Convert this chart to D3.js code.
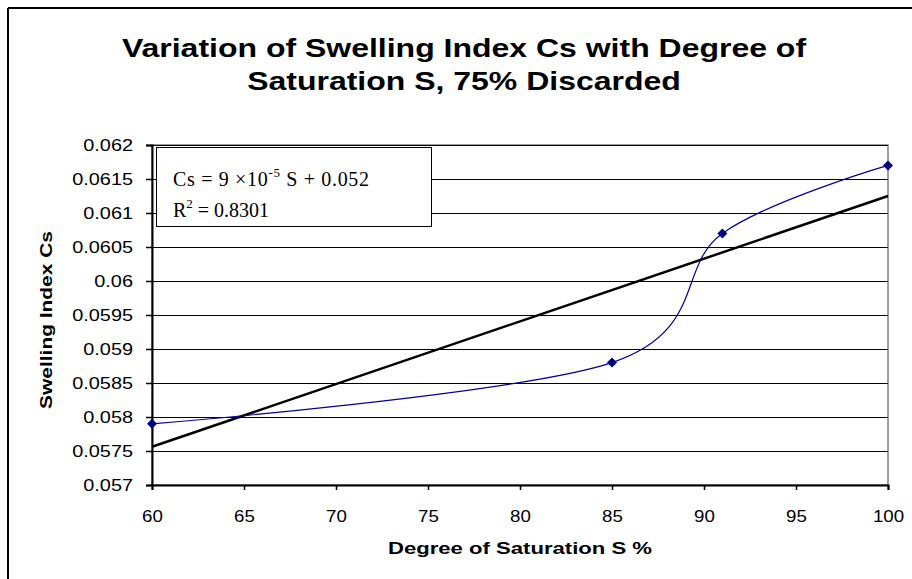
<!DOCTYPE html>
<html><head><meta charset="utf-8">
<script src="https://cdn.jsdelivr.net/npm/d3@7"></script>
<style>body{margin:0;background:#fff}svg{display:block}</style>
</head><body><svg id="c" width="912" height="579"></svg>
<script>
const saturation = [60, 85, 91, 100];
const swelling = [0.0579, 0.0588, 0.0607, 0.0617];
const xTicks = [60, 65, 70, 75, 80, 85, 90, 95, 100];
const yTicks = [0.057, 0.0575, 0.058, 0.0585, 0.059, 0.0595, 0.06, 0.0605, 0.061, 0.0615, 0.062];
const titleLines = ["Variation of Swelling Index Cs with Degree of", "Saturation S, 75% Discarded"];

const svg = d3.select("#c");
const L = 152, R = 888, T = 145, B = 485;
const x = d3.scaleLinear().domain([60, 100]).range([L, R]);
const y = d3.scaleLinear().domain([0.057, 0.062]).range([B, T]);
const font = "Liberation Sans, Arial, sans-serif";

function stretch(sel, k) {
  sel.each(function () {
    const w = this.getComputedTextLength();
    d3.select(this).attr("textLength", w * k).attr("lengthAdjust", "spacingAndGlyphs");
  });
}

// outer border (left & top visible)
svg.append("line").attr("x1", 8).attr("x2", 8).attr("y1", 8).attr("y2", 579).attr("stroke", "#000").attr("stroke-width", 2);
svg.append("line").attr("x1", 8).attr("x2", 912).attr("y1", 8).attr("y2", 8).attr("stroke", "#000").attr("stroke-width", 2);

// title
const tt = svg.append("g").selectAll("text").data(titleLines).join("text")
  .attr("x", 464).attr("y", (d, i) => 57 + i * 33).attr("text-anchor", "middle")
  .attr("font-family", font).attr("font-weight", "bold").attr("font-size", 26)
  .text(d => d);
stretch(tt, 1.23);

// plot border (gray)
svg.append("rect").attr("x", L).attr("y", T).attr("width", R - L).attr("height", B - T)
  .attr("fill", "none").attr("stroke", "#808080").attr("stroke-width", 1.5);

// gridlines
svg.append("g").selectAll("line").data(yTicks.slice(1)).join("line")
  .attr("x1", L).attr("x2", R).attr("y1", d => Math.round(y(d)) + 0.5).attr("y2", d => Math.round(y(d)) + 0.5)
  .attr("stroke", "#000").attr("stroke-width", 1.2);

// axes
const xAxis = svg.append("g").attr("transform", `translate(0,${B})`)
  .call(d3.axisBottom(x).tickValues(xTicks).tickSize(5).tickPadding(20).tickFormat(d3.format("d")));
const yAxis = svg.append("g").attr("transform", `translate(${L},0)`)
  .call(d3.axisLeft(y).tickValues(yTicks).tickSize(6).tickPadding(13).tickFormat(d => String(+d.toFixed(4))));
[xAxis, yAxis].forEach(g => {
  g.select(".domain").attr("stroke", "#000").attr("stroke-width", 2);
  g.selectAll(".tick line").attr("stroke", "#000").attr("stroke-width", 1.5);
  g.selectAll("text").attr("font-family", font).attr("font-size", 17).attr("fill", "#000");
});
yAxis.selectAll("text").attr("dy", "0.35em");
stretch(xAxis.selectAll("text"), 1.1);
stretch(yAxis.selectAll("text"), 1.17);

// axis titles
const xt = svg.append("text").attr("x", 520).attr("y", 554).attr("text-anchor", "middle")
  .attr("font-family", font).attr("font-weight", "bold").attr("font-size", 17).text("Degree of Saturation S %");
stretch(xt, 1.3);
const yt = svg.append("text").attr("transform", "translate(52,320) rotate(-90)").attr("text-anchor", "middle")
  .attr("font-family", font).attr("font-weight", "bold").attr("font-size", 17).text("Swelling Index Cs");
stretch(yt, 1.23);

// trendline (least squares)
const mx = d3.mean(saturation), my = d3.mean(swelling);
const slope = d3.sum(saturation, (s, i) => (s - mx) * (swelling[i] - my)) / d3.sum(saturation, s => (s - mx) ** 2);
const icpt = my - slope * mx;
svg.append("line").attr("x1", x(60)).attr("x2", x(100)).attr("y1", y(icpt + slope * 60)).attr("y2", y(icpt + slope * 100))
  .attr("stroke", "#000").attr("stroke-width", 2.5);

// smoothed series
const pts = saturation.map((s, i) => [x(s), y(swelling[i])]);
svg.append("path").attr("d", d3.line().curve(d3.curveCardinal.tension(0))(pts))
  .attr("fill", "none").attr("stroke", "#000099").attr("stroke-width", 1.2);
svg.append("g").selectAll("path").data(pts).join("path")
  .attr("transform", d => `translate(${d[0]},${d[1]})`)
  .attr("d", "M0,-5L5,0L0,5L-5,0Z").attr("fill", "#000080");

// equation box
svg.append("rect").attr("x", 156.5).attr("y", 147.5).attr("width", 275).attr("height", 79)
  .attr("fill", "#fff").attr("stroke", "#000").attr("stroke-width", 1);
const serif = "Liberation Serif, Times New Roman, serif";
const eq = svg.append("text").attr("x", 173).attr("y", 186).attr("font-family", serif).attr("font-size", 20);
eq.append("tspan").text("Cs = 9 ×10");
eq.append("tspan").attr("font-size", 13).attr("dy", -9).text("-5");
eq.append("tspan").attr("dy", 9).text(" S + 0.052");
eq.attr("textLength", 196).attr("lengthAdjust", "spacing");
const r2 = svg.append("text").attr("x", 173).attr("y", 217).attr("font-family", serif).attr("font-size", 20);
r2.append("tspan").text("R");
r2.append("tspan").attr("font-size", 13).attr("dy", -9).text("2");
r2.append("tspan").attr("dy", 9).text(" = 0.8301");
</script></body></html>
